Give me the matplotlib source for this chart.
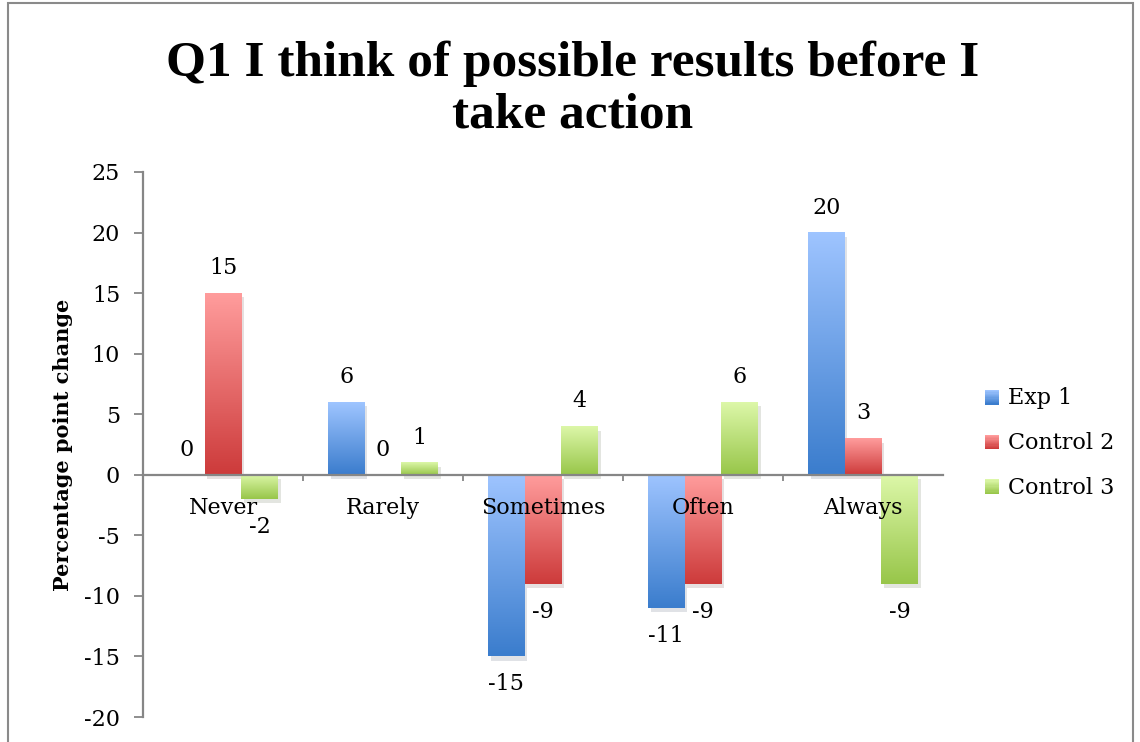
import matplotlib
matplotlib.use("Agg")
import matplotlib.pyplot as plt
import matplotlib.patheffects as pe
from matplotlib.patches import Patch, Rectangle
from matplotlib.legend_handler import HandlerBase
from matplotlib.colors import to_rgb
import numpy as np

categories = ["Never", "Rarely", "Sometimes", "Often", "Always"]
series_names = ["Exp 1", "Control 2", "Control 3"]
exp1 = [0, 6, -15, -11, 20]
control2 = [15, 0, -9, -9, 3]
control3 = [-2, 1, 4, 6, -9]

# light (top) / dark (bottom) colours for each series
tops = ["#9ec4ff", "#ff9c9c", "#dcf7a8"]
bottoms = ["#3b7dcd", "#cd3b3b", "#98c64a"]

plt.rcParams['font.family'] = ['DejaVu Serif']
plt.rcParams['font.size'] = 16
plt.rcParams['axes.unicode_minus'] = False

fig = plt.figure(figsize=(11.4, 7.42), dpi=100)
ax = fig.add_axes([143 / 1140, 1 - 717 / 742, 800 / 1140, 545 / 742])

x = np.arange(len(categories))
w = 0.23
grey = "#868686"


def grad(top, bottom, n=64):
    t = np.linspace(0, 1, n)[:, None]
    a = np.array(to_rgb(top))
    b = np.array(to_rgb(bottom))
    return (a * (1 - t) + b * t)[:, None, :]


class GradHandler(HandlerBase):
    def __init__(self, top, bottom):
        super().__init__()
        self.top = top
        self.bottom = bottom

    def create_artists(self, legend, orig, xd, yd, width, height, fontsize, trans):
        n = 12
        cols = grad(self.top, self.bottom, n)[:, 0, :]
        arts = []
        for k in range(n):
            r = Rectangle((xd, yd + height * (n - 1 - k) / n), width, height / n,
                          facecolor=cols[k], edgecolor='none', transform=trans)
            arts.append(r)
        return arts


all_vals = [exp1, control2, control3]
for i, vals in enumerate(all_vals):
    bars = ax.bar(x + (i - 1) * w, vals, w, color=bottoms[i], zorder=2,
                  linewidth=0)
    for b in bars:
        b.set_path_effects([pe.SimplePatchShadow(offset=(2, -3), alpha=0.13),
                            pe.Normal()])
        x0 = b.get_x()
        y0 = b.get_y()
        h = b.get_height()
        if h == 0:
            continue
        ylo, yhi = min(y0, y0 + h), max(y0, y0 + h)
        ax.imshow(grad(tops[i], bottoms[i]), extent=[x0, x0 + b.get_width(), ylo, yhi],
                  aspect='auto', origin='upper', zorder=3, interpolation='bilinear')
    for xi, v in zip(x + (i - 1) * w, vals):
        off = 18 if v >= 0 else -20
        ax.annotate(str(v), (xi, v), xytext=(0, off), textcoords='offset points',
                    ha='center', va='center', fontsize=16, zorder=5)

ax.set_xlim(-0.5, len(categories) - 0.5)
ax.set_ylim(-20, 25)
ax.set_yticks(range(-20, 26, 5))
ax.set_xticks(x)
ax.set_xticklabels(categories)
ax.set_xticks(np.arange(0.5, len(categories) - 0.5, 1), minor=True)

ax.spines['top'].set_visible(False)
ax.spines['right'].set_visible(False)
ax.spines['bottom'].set_position(('data', 0))
for s in ['left', 'bottom']:
    ax.spines[s].set_color(grey)
    ax.spines[s].set_linewidth(1.6)
    ax.spines[s].set_zorder(4)
ax.xaxis.set_zorder(6)

ax.tick_params(axis='y', direction='out', length=6.5, width=1.3, color=grey, pad=10, labelsize=16)
ax.tick_params(axis='x', which='major', length=0, pad=16, labelsize=16)
ax.tick_params(axis='x', which='minor', direction='out', length=4, width=1.3, color=grey)

ax.set_ylabel("Percentage point change", fontsize=15, fontweight='bold', labelpad=8)

fig.text(0.502, 1 - 64 / 742, "Q1 I think of possible results before I",
         ha='center', va='center', fontsize=37, fontweight='bold',
         family='Liberation Serif')
fig.text(0.502, 1 - 115 / 742, "take action",
         ha='center', va='center', fontsize=37, fontweight='bold',
         family='Liberation Serif')

handles = [Patch(facecolor=c) for c in bottoms]
fig.legend(handles, series_names, loc='center left', bbox_to_anchor=(985 / 1140, 1 - 443 / 742),
           frameon=False, fontsize=16, handlelength=0.65, handleheight=0.65,
           handletextpad=0.4, labelspacing=1.02, borderpad=0, borderaxespad=0,
           handler_map={h: GradHandler(t, b) for h, t, b in zip(handles, tops, bottoms)})

fig.add_artist(Rectangle((8 / 1140, -0.1), 1125 / 1140, 1.1 - 3 / 742,
                         transform=fig.transFigure, fill=False, edgecolor="#8a8a8a", linewidth=1.5))

fig.savefig("out.png", dpi=100)
